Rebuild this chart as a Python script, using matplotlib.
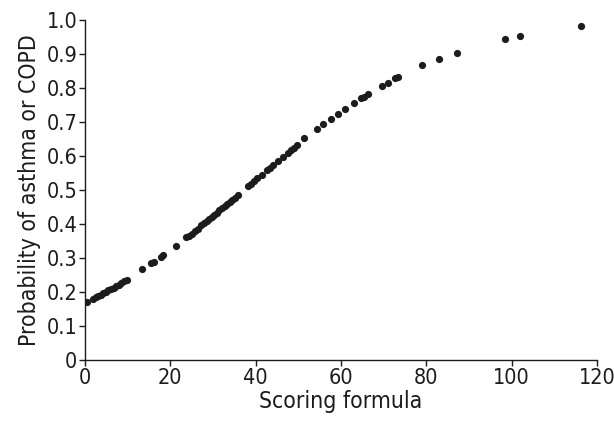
import matplotlib
matplotlib.use("Agg")
import matplotlib.pyplot as plt

# values
score = [0.4, 1.9, 2.5, 3.1, 3.7, 4.3, 4.9, 5.5, 6.1, 6.7, 7.3, 7.9, 8.5, 9.1, 9.8,
         13.4, 15.5, 16.2, 17.8, 18.3, 21.3,
         23.7, 24.4, 25.1, 25.8, 26.4,
         27.3, 27.9, 28.5, 29.1, 29.7, 30.3, 30.9, 31.5, 32.1, 32.7, 33.3, 33.9, 34.5, 35.1, 35.9,
         38.3, 39.0, 39.7, 40.4, 41.4,
         42.6, 43.3, 44.1, 45.3, 46.5, 47.6, 48.3, 49.0, 49.6, 51.4,
         54.4, 55.7, 57.7, 59.4, 60.9, 63.0, 64.6, 65.3, 66.4,
         69.5, 71.1, 72.7, 73.4, 79.1, 83.0, 87.1, 98.4, 101.9, 116.2]
prob = [0.171, 0.180, 0.184, 0.188, 0.192, 0.196, 0.200, 0.205, 0.209, 0.213, 0.218, 0.222, 0.226, 0.231, 0.235,
        0.267, 0.284, 0.289, 0.304, 0.308, 0.335,
        0.361, 0.366, 0.372, 0.378, 0.384,
        0.397, 0.403, 0.409, 0.415, 0.421, 0.427, 0.433, 0.440, 0.446, 0.452, 0.458, 0.464, 0.471, 0.477, 0.485,
        0.512, 0.519, 0.527, 0.534, 0.544,
        0.559, 0.566, 0.574, 0.586, 0.598, 0.610, 0.617, 0.625, 0.632, 0.652,
        0.679, 0.693, 0.708, 0.723, 0.737, 0.757, 0.771, 0.774, 0.782,
        0.806, 0.816, 0.829, 0.833, 0.867, 0.886, 0.904, 0.944, 0.954, 0.983]

xticks = [0, 20, 40, 60, 80, 100, 120]
yticks = [0, 0.1, 0.2, 0.3, 0.4, 0.5, 0.6, 0.7, 0.8, 0.9, 1.0]
ytick_labels = ["0", "0.1", "0.2", "0.3", "0.4", "0.5", "0.6", "0.7", "0.8", "0.9", "1.0"]

plt.rcParams['font.family'] = ['DejaVu Sans']
plt.rcParams['font.stretch'] = 'condensed'

fig = plt.figure(figsize=(6.14, 4.26), dpi=100)
ax = fig.add_axes([0.1384, 0.155, 0.8339, 0.798])

ax.plot(score, prob, 'o', color='#1c1c1c', markersize=5.2, markeredgewidth=0)

ax.set_xlim(0, 120)
ax.set_ylim(0, 1.0)
ax.set_xticks(xticks)
ax.set_yticks(yticks)
ax.set_yticklabels(ytick_labels)
ax.tick_params(direction='out', length=4, width=1, labelsize=15.5, colors='#1c1c1c', pad=1.5)

for s in ['top', 'right']:
    ax.spines[s].set_visible(False)
for s in ['left', 'bottom']:
    ax.spines[s].set_linewidth(1)
    ax.spines[s].set_color('#1c1c1c')

ax.set_xlabel("Scoring formula", fontsize=16.5, color='#1c1c1c', labelpad=2)
ax.set_ylabel("Probability of asthma or COPD", fontsize=16.5, color='#1c1c1c', labelpad=4)

fig.savefig("out.png", dpi=100)
